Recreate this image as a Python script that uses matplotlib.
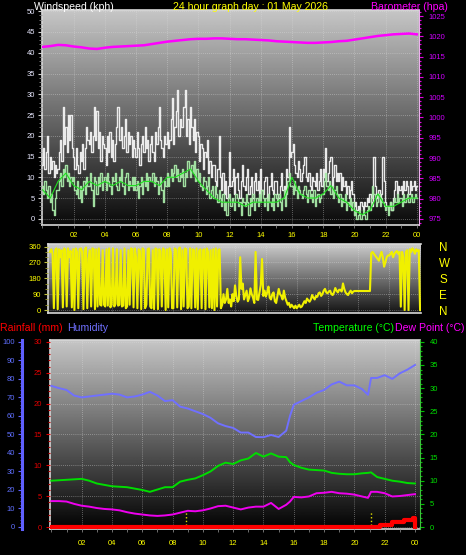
import numpy as np
import matplotlib
matplotlib.use('Agg')
import matplotlib.pyplot as plt
from matplotlib.ticker import MultipleLocator, FixedLocator

plt.rcParams['font.family'] = ['Liberation Sans', 'DejaVu Sans']

# ---------------- data ----------------
# wind sampled every 5 minutes (hours 0..24), one row per hour
wind_gust = [13, 17, 12, 16, 20, 11, 15, 12, 14, 10, 13, 11,
             12, 16, 19, 14, 27, 18, 22, 16, 25, 19, 25, 17,
             15, 12, 17, 13, 11, 16, 14, 18, 12, 17, 22, 19,
             18, 21, 16, 20, 27, 19, 26, 17, 21, 14, 20, 18,
             17, 13, 20, 16, 21, 15, 19, 14, 18, 22, 27, 19,
             19, 22, 17, 20, 24, 16, 21, 18, 20, 15, 19, 17,
             15, 21, 17, 13, 18, 20, 16, 22, 17, 19, 14, 18,
             20, 16, 14, 21, 18, 22, 27, 19, 17, 15, 20, 18,
             21, 17, 19, 24, 29, 18, 22, 26, 31, 20, 24, 22,
             22, 27, 31, 20, 24, 18, 27, 22, 19, 24, 16, 21,
             20, 14, 18, 17, 12, 16, 15, 19, 11, 14, 10, 13,
             13, 9, 8, 12, 20, 10, 7, 11, 6, 9, 5, 8,
             16, 8, 9, 12, 6, 10, 11, 7, 5, 9, 13, 8,
             7, 10, 12, 6, 8, 10, 5, 9, 11, 7, 9, 6,
             12, 7, 6, 9, 10, 5, 6, 8, 11, 7, 6, 9,
             9, 6, 5, 8, 11, 7, 8, 6, 12, 10, 22, 15,
             16, 18, 13, 11, 10, 14, 12, 9, 11, 13, 15, 10,
             9, 11, 8, 7, 10, 9, 8, 11, 7, 9, 12, 8,
             12, 10, 17, 9, 11, 14, 15, 8, 10, 13, 9, 11,
             9, 11, 7, 10, 8, 9, 6, 8, 5, 7, 9, 6,
             3, 4, 2, 3, 2, 4, 3, 2, 4, 3, 5, 4,
             6, 4, 3, 15, 8, 6, 5, 7, 4, 6, 15, 9,
             4, 3, 2, 3, 4, 2, 5, 7, 9, 6, 8, 7,
             8, 6, 9, 7, 9, 8, 6, 9, 7, 8, 9, 7,
             8]
wind_speed = [8, 6, 9, 7, 5, 8, 4, 6, 2, 1, 5, 7,
              7, 9, 11, 8, 12, 10, 13, 9, 11, 8, 10, 9,
              10, 7, 6, 9, 5, 8, 4, 7, 9, 6, 10, 8,
              8, 11, 7, 3, 10, 9, 6, 10, 8, 11, 7, 9,
              10, 7, 11, 9, 8, 6, 10, 9, 11, 8, 7, 10,
              9, 12, 8, 6, 10, 11, 7, 9, 8, 10, 7, 10,
              7, 9, 5, 8, 10, 6, 9, 8, 11, 7, 10, 9,
              9, 11, 8, 10, 9, 6, 8, 10, 7, 4, 9, 8,
              11, 8, 10, 12, 9, 11, 13, 10, 12, 9, 11, 10,
              12, 8, 11, 10, 14, 12, 10, 13, 11, 14, 9, 12,
              9, 11, 8, 7, 10, 9, 6, 8, 10, 5, 7, 8,
              5, 8, 6, 4, 7, 5, 3, 6, 2, 4, 1, 5,
              6, 3, 5, 4, 2, 6, 5, 3, 4, 1, 5, 4,
              3, 6, 4, 1, 5, 3, 6, 2, 4, 5, 3, 6,
              4, 7, 5, 3, 5, 2, 6, 4, 3, 5, 2, 6,
              5, 3, 6, 4, 2, 5, 7, 3, 6, 9, 11, 8,
              8, 6, 9, 7, 5, 8, 7, 6, 5, 7, 8, 6,
              4, 7, 5, 6, 4, 7, 3, 5, 6, 4, 5, 6,
              6, 9, 11, 8, 7, 9, 6, 8, 5, 7, 8, 6,
              4, 6, 3, 5, 4, 6, 2, 4, 3, 5, 2, 4,
              1, 2, 0, 1, 2, 0, 1, 2, 1, 0, 2, 3,
              2, 5, 8, 6, 5, 3, 4, 6, 3, 5, 4, 3,
              2, 3, 1, 3, 4, 2, 4, 5, 4, 6, 4, 5,
              5, 3, 6, 4, 5, 6, 4, 5, 6, 4, 5, 6,
              5]
wind_dir = [330, 345, 320, 10, 340, 350, 5, 345, 300, 340, 15, 350,
            340, 20, 350, 300, 335, 15, 345, 0, 350, 330, 10, 345,
            350, 330, 5, 340, 355, 10, 290, 340, 20, 350, 345, 5,
            345, 20, 350, 30, 25, 340, 30, 20, 345, 25, 350, 15,
            30, 350, 20, 35, 345, 25, 30, 340, 20, 25, 350, 10,
            20, 340, 30, 350, 345, 15, 350, 300, 10, 345, 335, 5,
            350, 340, 10, 30, 345, 350, 20, 10, 340, 5, 350, 345,
            5, 345, 335, 20, 350, 340, 0, 345, 15, 350, 330, 10,
            10, 350, 345, 15, 340, 355, 5, 340, 20, 350, 345, 10,
            20, 350, 10, 345, 340, 15, 350, 5, 335, 345, 10, 340,
            345, 5, 350, 330, 15, 340, 10, 345, 0, 350, 20, 340,
            345, 10, 30, 90, 40, 60, 120, 40, 60, 20, 90, 50,
            140, 80, 47, 60, 300, 120, 150, 60, 85, 110, 50, 70,
            123, 90, 70, 40, 330, 60, 57, 100, 142, 290, 80, 110,
            76, 100, 133, 70, 60, 90, 100, 50, 40, 80, 120, 90,
            80, 60, 110, 70, 50, 30, 40, 15, 30, 20, 10, 25,
            10, 20, 30, 15, 20, 35, 50, 40, 65, 55, 47, 60,
            85, 70, 60, 80, 75, 95, 100, 80, 90, 110, 120, 100,
            95, 105, 110, 90, 85, 100, 125, 110, 100, 115, 115, 105,
            151, 120, 100, 90, 85, 100, 110, 95, 105, 108, 108, 108,
            108, 108, 108, 108, 108, 108, 108, 108, 108, 108, 322, 330,
            320, 310, 300, 290, 280, 310, 330, 300, 246, 270, 300, 310,
            310, 320, 330, 300, 320, 330, 335, 320, 330, 19, 330, 300,
            0, 330, 340, 0, 345, 330, 350, 340, 320, 345, 335, 340,
            0]
t_wind = np.arange(len(wind_gust)) / 12.0

# 30-minute series
wind_avg = [7, 5, 9, 11, 8, 7, 9, 8, 9, 8, 9, 8, 8, 9, 9, 8, 10, 10, 11, 12,
            9, 7, 5, 4, 4, 4, 3, 4, 4, 4, 4, 5, 10, 6, 5, 5, 6, 8, 5, 4,
            2, 1, 2, 6, 3, 3, 4, 5, 5]
barometer = [1017.4, 1017.6, 1017.9, 1017.8, 1017.5, 1017.3, 1017.0, 1016.9,
             1017.2, 1017.4, 1017.5, 1017.6, 1017.7, 1017.8, 1018.1, 1018.4,
             1018.7, 1018.9, 1019.1, 1019.3, 1019.4, 1019.4, 1019.5, 1019.5,
             1019.4, 1019.3, 1019.3, 1019.2, 1019.1, 1019.0, 1018.8, 1018.7,
             1018.6, 1018.5, 1018.4, 1018.4, 1018.5, 1018.6, 1018.8, 1018.9,
             1019.2, 1019.5, 1019.8, 1020.1, 1020.3, 1020.5, 1020.6, 1020.7,
             1020.5]
t_half = np.arange(len(barometer)) / 2.0

t_th = [0, 0.5, 1, 1.5, 2, 2.5, 3, 3.5, 4, 4.5, 5, 5.5, 6, 6.5, 7, 7.5, 8,
        8.5, 9, 9.5, 10, 10.5, 11, 11.5, 12, 12.5, 13, 13.5, 14, 14.5, 15,
        15.5, 15.75, 16, 16.5, 17, 17.5, 18, 18.5, 19, 19.5, 20, 20.5, 20.9,
        21.1, 21.5, 22, 22.5, 23, 23.5, 24]
humidity = [76.2, 75, 74, 71, 70, 70.5, 71, 71.5, 72, 71.5, 70, 70.5, 71.5,
            73, 71, 68, 68.5, 65, 64, 62.5, 61, 59, 56, 54.5, 53.5, 51, 51,
            48.6, 48.5, 49.7, 48.6, 52, 60, 66, 68, 70, 72.5, 74, 77, 78.5,
            76.5, 76.5, 74.5, 71.4, 80.5, 80.5, 82, 80, 83, 85, 87.5]
temperature = [10.0, 10.1, 10.2, 10.3, 10.4, 10.0, 9.4, 9.1, 8.8, 8.7, 8.6,
               8.3, 8.0, 7.6, 8.1, 8.6, 8.6, 9.8, 10.2, 10.5, 11.2, 12.0,
               13.2, 13.9, 13.6, 14.4, 14.8, 16.0, 15.2, 15.9, 15.2, 15.1,
               14.0, 13.4, 12.8, 12.4, 12.3, 12.2, 11.7, 11.5, 11.4, 11.4,
               11.6, 11.7, 11.8, 10.8, 10.4, 10.0, 9.8, 9.5, 9.4]
dewpoint = [5.6, 5.6, 5.5, 5.0, 4.6, 4.4, 4.1, 3.9, 3.8, 3.6, 3.2, 2.9, 2.7,
            2.5, 2.4, 2.5, 2.7, 3.1, 3.5, 3.4, 3.6, 4.0, 4.5, 4.6, 4.2, 3.8,
            4.2, 4.4, 4.4, 5.2, 3.9, 4.8, 5.5, 6.5, 6.4, 6.6, 7.3, 7.4, 7.6,
            7.3, 7.2, 7.0, 6.6, 6.3, 7.6, 7.6, 7.3, 6.6, 6.7, 6.9, 7.1]
rain_t = [0, 21.7, 22.5, 23.3, 23.85, 24.0]
rain_mm = [0, 0.4, 0.8, 1.1, 1.5, 0]
sun_marks = [8.88, 21.09]

hour_ticks = [2, 4, 6, 8, 10, 12, 14, 16, 18, 20, 22, 24]
hour_labels = ['02', '04', '06', '08', '10', '12', '14', '16', '18', '20', '22', '00']
dir_ticks = [0, 90, 180, 270, 360]
dir_names = ['N', 'E', 'S', 'W', 'N']

# ---------------- layout ----------------
W, H = 466, 555
fig = plt.figure(figsize=(W / 100, H / 100), dpi=100, facecolor='black')


def rect(l, t, r, b):
    return [l / W, 1 - b / H, (r - l) / W, (b - t) / H]


def background(ax, top, bottom):
    g = np.linspace(bottom, top, 256).reshape(-1, 1)
    ax.imshow(g, aspect='auto', cmap='gray', vmin=0, vmax=1,
              extent=[0, 1, 0, 1], transform=ax.transAxes,
              origin='lower', zorder=0, interpolation='bilinear')


def frame(ax):
    for s in ['left', 'bottom', 'top']:
        ax.spines[s].set_color('#d8d8d8')
        ax.spines[s].set_linewidth(1.2)
    ax.spines['right'].set_visible(False)
    ax.grid(True, which='major', color='#e0e0e0', linestyle=(0, (1, 1.5)),
            linewidth=0.6, alpha=0.5)
    ax.set_axisbelow(False)


# ---- panel 1 : wind + barometer ----
ax1 = fig.add_axes(rect(42, 10, 419, 225))
background(ax1, 0.78, 0.04)
ax1.plot(t_wind, wind_gust, color='#f4f4f4', lw=1.0, alpha=0.95,
         drawstyle='steps-mid', zorder=3)
ax1.plot(t_wind, wind_speed, color='#a8eaa8', lw=1.0, alpha=0.95,
         drawstyle='steps-mid', zorder=4)
ax1.plot(t_half, wind_avg, color='#20e020', lw=0.8, zorder=5)
ax1.set_xlim(-0.03, 24.14)
ax1.set_ylim(-1.5, 50.3)
frame(ax1)
ax1.yaxis.set_major_locator(MultipleLocator(5))
ax1.yaxis.set_minor_locator(MultipleLocator(1))
ax1.xaxis.set_major_locator(FixedLocator(hour_ticks))
ax1.xaxis.set_minor_locator(MultipleLocator(1))
ax1.set_xticklabels(hour_labels)
ax1.tick_params(axis='y', which='major', colors='#d0d0d0', labelcolor='#e8e8ff',
                labelsize=5.5, length=3, width=0.8, pad=2)
ax1.tick_params(axis='y', which='minor', colors='#909090', length=2, width=0.6)
ax1.tick_params(axis='x', which='major', colors='#808080', labelcolor='#ffff00',
                labelsize=5.5, length=2, width=0.6, pad=3)
ax1.tick_params(axis='x', which='minor', colors='#808080', length=2, width=0.6)

ax1b = ax1.twinx()
ax1b.plot(t_half, barometer, color='#ff00ff', lw=1.8, zorder=6)
ax1b.set_ylim(973.5, 1026.5)
ax1b.yaxis.set_major_locator(MultipleLocator(5))
ax1b.yaxis.set_minor_locator(MultipleLocator(1))
for s in ['left', 'top', 'bottom']:
    ax1b.spines[s].set_visible(False)
ax1b.spines['right'].set_color('#f0b0f0')
ax1b.spines['right'].set_linestyle((0, (1, 1)))
ax1b.tick_params(axis='y', which='major', colors='#e000e0', labelcolor='#d000ff',
                 labelsize=5.5, length=3, width=0.8, pad=4)
ax1b.tick_params(axis='y', which='minor', colors='#e000e0', length=1.5, width=0.8)

# ---- panel 2 : wind direction ----
ax2 = fig.add_axes(rect(48, 244, 421, 313))
background(ax2, 0.80, 0.08)
ax2.plot(t_wind, wind_dir, color='#f0f000', lw=1.5, zorder=3)
ax2.set_xlim(-0.13, 24.06)
ax2.set_ylim(-17, 375)
frame(ax2)
ax2.xaxis.set_major_locator(FixedLocator(hour_ticks))
ax2.tick_params(axis='x', which='both', bottom=False, labelbottom=False)
ax2.yaxis.set_major_locator(FixedLocator(dir_ticks))
ax2.yaxis.set_minor_locator(MultipleLocator(30))
ax2.tick_params(axis='y', which='major', colors='#c0c040', labelcolor='#ffff00',
                labelsize=5.5, length=3, width=0.8, pad=2)
ax2.tick_params(axis='y', which='minor', colors='#a0a030', length=2, width=0.6)
ax2b = ax2.twinx()
ax2b.set_ylim(-17, 375)
ax2b.yaxis.set_major_locator(FixedLocator(dir_ticks))
ax2b.set_yticklabels(dir_names)
for s in ax2b.spines.values():
    s.set_visible(False)
ax2b.tick_params(axis='y', length=0, labelcolor='#ffff00', labelsize=8.4, pad=13)

# ---- panel 3 : rain / humidity / temperature ----
ax3 = fig.add_axes(rect(50, 340, 420, 529))
background(ax3, 0.78, 0.01)
ax3.set_xlim(-0.09, 24.33)
ax3.set_ylim(-0.32, 30.3)
frame(ax3)
ax3.xaxis.set_major_locator(FixedLocator(hour_ticks))
ax3.xaxis.set_minor_locator(MultipleLocator(1))
ax3.set_xticklabels(hour_labels)
ax3.yaxis.set_major_locator(MultipleLocator(5))
ax3.yaxis.set_minor_locator(MultipleLocator(1))
ax3.tick_params(axis='y', which='major', colors='#e00000', labelcolor='#e00000',
                labelsize=5.5, length=3, width=0.8, pad=3)
ax3.tick_params(axis='y', which='minor', colors='#c00000', length=1.5, width=0.8)
ax3.tick_params(axis='x', which='major', colors='#808080', labelcolor='#ffff00',
                labelsize=5.5, length=2, width=0.6, pad=6)
ax3.tick_params(axis='x', which='minor', colors='#808080', length=2, width=0.6)
for x in sun_marks:
    ax3.axvline(x, ymin=0, ymax=0.09, color='#e0e000', ls=':', lw=1.0, zorder=2)

ax3h = ax3.twinx()
ax3h.plot(t_th, humidity, color='#7070ff', lw=1.4, zorder=3)
ax3h.set_ylim(-1.1, 101)
ax3h.spines['left'].set_position(('outward', 20))
ax3h.spines['left'].set_visible(True)
ax3h.spines['left'].set_color('#6060ff')
ax3h.spines['left'].set_linewidth(2.2)
for s in ['right', 'top', 'bottom']:
    ax3h.spines[s].set_visible(False)
ax3h.yaxis.set_ticks_position('left')
ax3h.yaxis.set_major_locator(MultipleLocator(10))
ax3h.yaxis.set_minor_locator(MultipleLocator(2))
ax3h.tick_params(axis='y', which='major', colors='#6060ff', labelcolor='#6070ff',
                 labelsize=5.5, length=3, width=0.8, pad=2)
ax3h.tick_params(axis='y', which='minor', colors='#6060ff', length=1.5, width=0.6)

ax3t = ax3.twinx()
ax3t.plot(t_th, temperature, color='#00dd00', lw=1.4, zorder=4)
ax3t.plot(t_th, dewpoint, color='#ee00ee', lw=1.4, zorder=4)
ax3t.plot(rain_t, [r * 4.0 / 3.0 for r in rain_mm], color='#ff0000', lw=3,
          drawstyle='steps-post', zorder=5)
ax3t.set_ylim(-0.43, 40.4)
for s in ['left', 'top', 'bottom']:
    ax3t.spines[s].set_visible(False)
ax3t.spines['right'].set_color('#40c040')
ax3t.spines['right'].set_linestyle((0, (1, 1)))
ax3t.yaxis.set_major_locator(MultipleLocator(5))
ax3t.yaxis.set_minor_locator(MultipleLocator(1))
ax3t.tick_params(axis='y', which='major', colors='#00c000', labelcolor='#00e000',
                 labelsize=5.5, length=3, width=0.8, pad=4)
ax3t.tick_params(axis='y', which='minor', colors='#00c000', length=1.5, width=0.8)

# ---------------- texts ----------------
fs = 7.6
fig.text(34 / W, 1 - 9.5 / H, 'Windspeed (kph)', color='white', fontsize=fs, va='baseline')
fig.text(173 / W, 1 - 9.5 / H, '24 hour graph day : 01 May 2026', color='#ffff00',
         fontsize=fs, va='baseline')
fig.text(371 / W, 1 - 9.5 / H, 'Barometer (hpa)', color='#ff00ff', fontsize=fs, va='baseline')
fig.text(0 / W, 1 - 331 / H, 'Rainfall (mm)', color='#ff0000', fontsize=fs, va='baseline')
fig.text(67 / W, 1 - 331 / H, 'Humidity', color='#7070ff', fontsize=fs, va='baseline')
fig.text(313 / W, 1 - 331 / H, 'Temperature (°C)', color='#00ff00', fontsize=fs, va='baseline')
fig.text(395 / W, 1 - 331 / H, 'Dew Point (°C)', color='#ff00ff', fontsize=fs, va='baseline')

fig.savefig('out.png', dpi=100, facecolor='black')
